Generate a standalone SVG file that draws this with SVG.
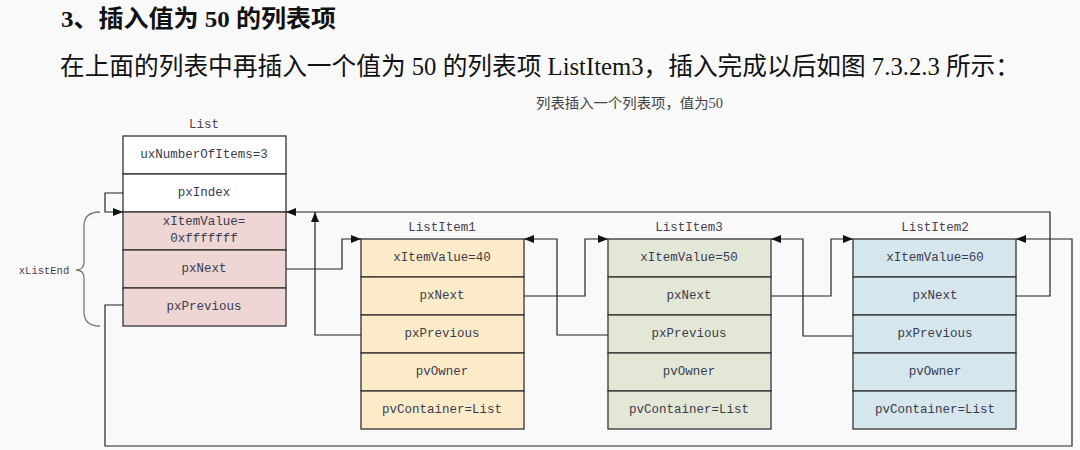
<svg xmlns="http://www.w3.org/2000/svg" width="1080" height="450" viewBox="0 0 1080 450">
<style>
.bg{fill:#f9f9f9}
.title{font-family:"Liberation Serif","Noto Sans CJK SC",serif;font-weight:bold;font-size:24px;fill:#111}
.body{font-family:"Liberation Serif","Noto Sans CJK SC",serif;font-size:25px;fill:#111}
.cap{font-family:"Liberation Serif","Noto Sans CJK SC",serif;font-size:14px;fill:#444}
.t{font-family:"Liberation Mono",monospace;font-size:12.5px;fill:#3b3b4f;text-anchor:middle;dominant-baseline:central}
.lbl{font-family:"Liberation Mono",monospace;font-size:12.5px;fill:#4a4050;text-anchor:middle}
.cell{stroke:#333;stroke-width:1.3}
.white{fill:#ffffff}
.pink{fill:#edd6d4}
.yellow{fill:#fbebc8}
.green{fill:#e3e8d6}
.blue{fill:#d6e6ed}
.conn{fill:none;stroke:#222;stroke-width:1.2}
.brace{fill:none;stroke:#777;stroke-width:1.3}
</style>
<defs>
<marker id="arr" markerUnits="userSpaceOnUse" markerWidth="11" markerHeight="9" refX="10" refY="4" orient="auto">
<path d="M0,0 L10,4 L0,8 z" fill="#111"/>
</marker>
</defs>
<rect class="bg" x="0" y="0" width="1080" height="450"/>
<text class="title" x="61" y="27" textLength="275" lengthAdjust="spacingAndGlyphs">3、插入值为 50 的列表项</text>
<text class="body" x="60" y="75" textLength="960" lengthAdjust="spacingAndGlyphs">在上面的列表中再插入一个值为 50 的列表项 ListItem3，插入完成以后如图 7.3.2.3 所示：</text>
<text class="cap" x="536" y="108" textLength="187" lengthAdjust="spacingAndGlyphs">列表插入一个列表项，值为50</text>

<g id="List">
<text class="lbl" x="204" y="128">List</text>
<rect class="cell white" x="123" y="136" width="163" height="38"/>
<rect class="cell white" x="123" y="174" width="163" height="38"/>
<rect class="cell pink" x="123" y="212" width="163" height="38"/>
<rect class="cell pink" x="123" y="250" width="163" height="38"/>
<rect class="cell pink" x="123" y="288" width="163" height="38"/>
<text class="t" x="204" y="155">uxNumberOfItems=3</text>
<text class="t" x="204" y="193">pxIndex</text>
<text class="t" x="204" y="222">xItemValue=</text>
<text class="t" x="204" y="239">0xfffffff</text>
<text class="t" x="204" y="269">pxNext</text>
<text class="t" x="204" y="307">pxPrevious</text>
</g>

<g id="xListEnd">
<path class="brace" d="M100,212 Q84,212 84,226 L84,262 Q84,270 76,270 Q84,270 84,278 L84,312 Q84,326 100,326"/>
<text class="lbl" x="44" y="274" style="font-size:10.5px">xListEnd</text>
</g>

<g id="ListItem1">
<text class="lbl" x="442" y="231">ListItem1</text>
<rect class="cell yellow" x="361" y="239" width="163" height="38"/>
<rect class="cell yellow" x="361" y="277" width="163" height="38"/>
<rect class="cell yellow" x="361" y="315" width="163" height="38"/>
<rect class="cell yellow" x="361" y="353" width="163" height="38"/>
<rect class="cell yellow" x="361" y="391" width="163" height="38"/>
<text class="t" x="442" y="258">xItemValue=40</text>
<text class="t" x="442" y="296">pxNext</text>
<text class="t" x="442" y="334">pxPrevious</text>
<text class="t" x="442" y="372">pvOwner</text>
<text class="t" x="442" y="410">pvContainer=List</text>
</g>

<g id="ListItem3">
<text class="lbl" x="689" y="231">ListItem3</text>
<rect class="cell green" x="608" y="239" width="163" height="38"/>
<rect class="cell green" x="608" y="277" width="163" height="38"/>
<rect class="cell green" x="608" y="315" width="163" height="38"/>
<rect class="cell green" x="608" y="353" width="163" height="38"/>
<rect class="cell green" x="608" y="391" width="163" height="38"/>
<text class="t" x="689" y="258">xItemValue=50</text>
<text class="t" x="689" y="296">pxNext</text>
<text class="t" x="689" y="334">pxPrevious</text>
<text class="t" x="689" y="372">pvOwner</text>
<text class="t" x="689" y="410">pvContainer=List</text>
</g>

<g id="ListItem2">
<text class="lbl" x="935" y="231">ListItem2</text>
<rect class="cell blue" x="853" y="239" width="163" height="38"/>
<rect class="cell blue" x="853" y="277" width="163" height="38"/>
<rect class="cell blue" x="853" y="315" width="163" height="38"/>
<rect class="cell blue" x="853" y="353" width="163" height="38"/>
<rect class="cell blue" x="853" y="391" width="163" height="38"/>
<text class="t" x="935" y="258">xItemValue=60</text>
<text class="t" x="935" y="296">pxNext</text>
<text class="t" x="935" y="334">pxPrevious</text>
<text class="t" x="935" y="372">pvOwner</text>
<text class="t" x="935" y="410">pvContainer=List</text>
</g>

<g id="connectors">
<path class="conn" d="M123,193 H105 V212 H123" marker-end="url(#arr)"/>
<path class="conn" d="M286,269 H342 V239 H361" marker-end="url(#arr)"/>
<path class="conn" d="M361,335 H315 V212" marker-end="url(#arr)"/>
<path class="conn" d="M1016,296 H1050 V212 H286" marker-end="url(#arr)"/>
<path class="conn" d="M524,296 H585 V239 H608" marker-end="url(#arr)"/>
<path class="conn" d="M608,335 H557 V239 H524" marker-end="url(#arr)"/>
<path class="conn" d="M771,296 H831 V239 H853" marker-end="url(#arr)"/>
<path class="conn" d="M853,336 H803 V239 H771" marker-end="url(#arr)"/>
<path class="conn" d="M123,305 H105 V446 H1072 V239 H1016" marker-end="url(#arr)"/>
</g>
</svg>
